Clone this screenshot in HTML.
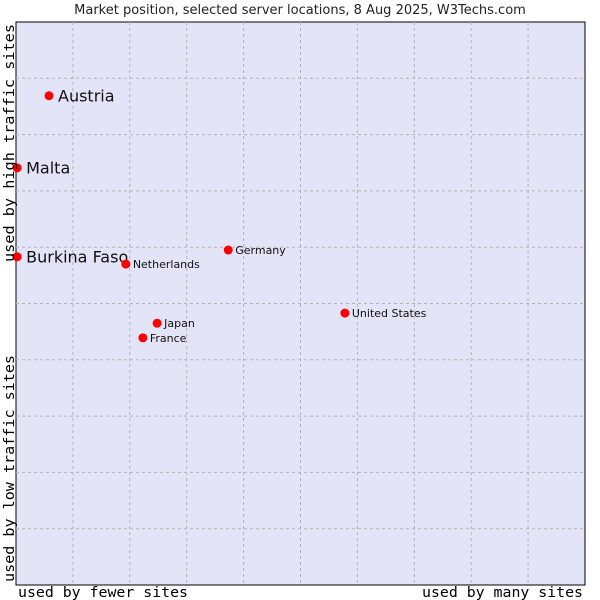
<!DOCTYPE html>
<html><head><meta charset="utf-8"><style>
body{margin:0;background:#fff;}
svg{display:block;font-family:"DejaVu Sans","Liberation Sans",sans-serif;}
</style></head><body>
<svg id="chart" width="600" height="600">
<text x="300" y="14" text-anchor="middle" font-size="13" fill="#222">Market position, selected server locations, 8 Aug 2025, W3Techs.com</text>
<rect x="16" y="22" width="569" height="563" fill="#e4e4f8" stroke="#000" stroke-width="1"/>
<g id="grid"></g>
<g id="points"></g>
<text x="18" y="597" textLength="170" lengthAdjust="spacingAndGlyphs" font-family="DejaVu Sans Mono,Liberation Mono,monospace" font-size="14" fill="#000">used by fewer sites</text>
<text x="422" y="597" textLength="161" lengthAdjust="spacingAndGlyphs" font-family="DejaVu Sans Mono,Liberation Mono,monospace" font-size="14" fill="#000">used by many sites</text>
<text transform="translate(14,262) rotate(-90)" textLength="238" lengthAdjust="spacingAndGlyphs" font-family="DejaVu Sans Mono,Liberation Mono,monospace" font-size="14" fill="#000">used by high traffic sites</text>
<text transform="translate(14,582) rotate(-90)" textLength="227" lengthAdjust="spacingAndGlyphs" font-family="DejaVu Sans Mono,Liberation Mono,monospace" font-size="14" fill="#000">used by low traffic sites</text>
</svg>
<script>
const countries = ["Austria","Malta","Burkina Faso","Netherlands","Germany","United States","Japan","France"];
const xValues = [0.58,0.02,0.02,1.93,3.73,5.78,2.48,2.23];
const yValues = [8.69,7.41,5.83,5.70,5.95,4.83,4.65,4.39];
const bigLabel = [true,true,true,false,false,false,false,false];
const ns="http://www.w3.org/2000/svg";
const X0=16,X1=585,Y0=585,Y1=22;
function sx(v){return X0+v/10*(X1-X0);}
function sy(v){return Y0-v/10*(Y0-Y1);}
const grid=document.getElementById('grid');
for(let i=1;i<10;i++){
  const v=document.createElementNS(ns,'line');
  v.setAttribute('x1',sx(i));v.setAttribute('x2',sx(i));v.setAttribute('y1',Y1);v.setAttribute('y2',Y0);
  v.setAttribute('stroke','#b4b4b4');v.setAttribute('stroke-dasharray','3,3');
  
  
  grid.appendChild(v);
  const h=document.createElementNS(ns,'line');
  h.setAttribute('y1',sy(i));h.setAttribute('y2',sy(i));h.setAttribute('x1',X0);h.setAttribute('x2',X1);
  h.setAttribute('stroke','#b4b4b4');h.setAttribute('stroke-dasharray','3,3');
  
  
  grid.appendChild(h);
}
const pts=document.getElementById('points');
countries.forEach((c,i)=>{
  const x=sx(xValues[i]),y=sy(yValues[i]);
  const d=document.createElementNS(ns,'circle');
  d.setAttribute('cx',x);d.setAttribute('cy',y);d.setAttribute('r',4.5);d.setAttribute('fill','#f00');
  
  
  pts.appendChild(d);
  const t=document.createElementNS(ns,'text');
  t.setAttribute('x',x+(bigLabel[i]?9:7));
  t.setAttribute('y',y+(bigLabel[i]?5.5:4));
  t.setAttribute('font-size',bigLabel[i]?16:11);
  t.setAttribute('fill','#111');
  t.textContent=c;
  
  
  pts.appendChild(t);
});
</script>
</body></html>
